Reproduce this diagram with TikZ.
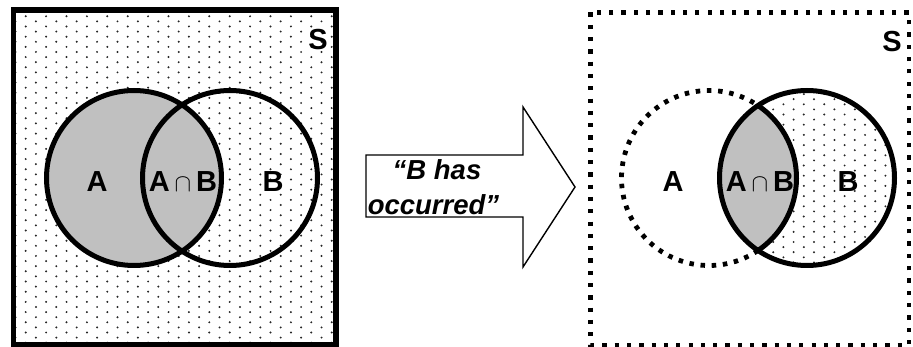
\documentclass[tikz,border=0pt]{standalone}
\usepackage{fontspec}
\setmainfont{Liberation Sans}
\definecolor{lensgrey}{HTML}{C0C0C0}
\begin{document}
\begin{tikzpicture}[x=1pt,y=-1pt,
  thickline/.style={line width=5pt},
  dotline/.style={line width=4.8pt, dash pattern=on 4.5pt off 6.7pt},
  boxdots/.style={line width=4.2pt, dash pattern=on 4.2pt off 8.1pt},
  lbl/.style={font=\fontsize{29}{31}\selectfont\bfseries, inner sep=0pt},
  arrtxt/.style={font=\fontsize{27.5}{33}\selectfont\bfseries\itshape, inner sep=0pt, anchor=base},
  spot/.style={fill=black!85}]
\useasboundingbox (0,0) rectangle (913,347);
% ---------- left panel ----------
\begin{scope}
  \clip (13.5,10) rectangle (336,344.5);
  \foreach \r in {0,...,66} {
    \foreach \c in {0,...,16} {
      \fill[spot] ({15.5+20.4*\c+10.2*mod(\r,2)},{11.2+5.1*\r}) circle[radius=1.1];
    }
  }
\end{scope}
\coordinate (cA) at (134,178);
\coordinate (cB) at (230,178);
\fill[lensgrey] (cA) circle[radius=87.5];
\draw[thickline] (cA) circle[radius=87.5];
\draw[thickline] (cB) circle[radius=87.5];
\draw[line width=5.5pt] (13.5,10) rectangle (336,344.5);
\node[lbl] (lA) at (97,182) {A};
\node[lbl] (lAB) at (183,182) {A\,$\cap$\,B};
\node[lbl] (lB) at (273,182) {B};
\node[lbl] (lS) at (318,40) {S};
% ---------- arrow ----------
\draw[line width=1.4pt, fill=white] (366,155) -- (523,155) -- (523,107) -- (575,187)
  -- (523,267) -- (523,217) -- (366,217) -- cycle;
\node[arrtxt] (msg1) at (437,180) {“B has};
\node[arrtxt] (msg2) at (433.5,215) {occurred”};
% ---------- right panel ----------
\coordinate (dA) at (709,178);
\coordinate (dB) at (807,178);
\begin{scope}
  \clip (dB) circle[radius=87.5];
  \foreach \r in {0,...,36} {
    \foreach \c in {0,...,9} {
      \fill[spot] ({712+20.4*\c+10.2*mod(\r,2)},{89+5.1*\r}) circle[radius=1.1];
    }
  }
\end{scope}
\begin{scope}
  \clip (dA) circle[radius=87.5];
  \fill[lensgrey] (dB) circle[radius=87.5];
\end{scope}
\draw[thickline] (dB) circle[radius=87.5];
\draw[thickline] (dA) ++(-55.95:87.5) arc[start angle=-55.95, end angle=55.95, radius=87.5];
\draw[dotline] (dA) ++(55.95:87.5) arc[start angle=55.95, end angle=304.05, radius=87.5];
\draw[boxdots] (590.5,12.5) rectangle (909,345);
\node[lbl] (rA) at (673,182) {A};
\node[lbl] (rAB) at (760,182) {A\,$\cap$\,B};
\node[lbl] (rB) at (848,182) {B};
\node[lbl] (rS) at (892,42) {S};
\end{tikzpicture}
\end{document}
